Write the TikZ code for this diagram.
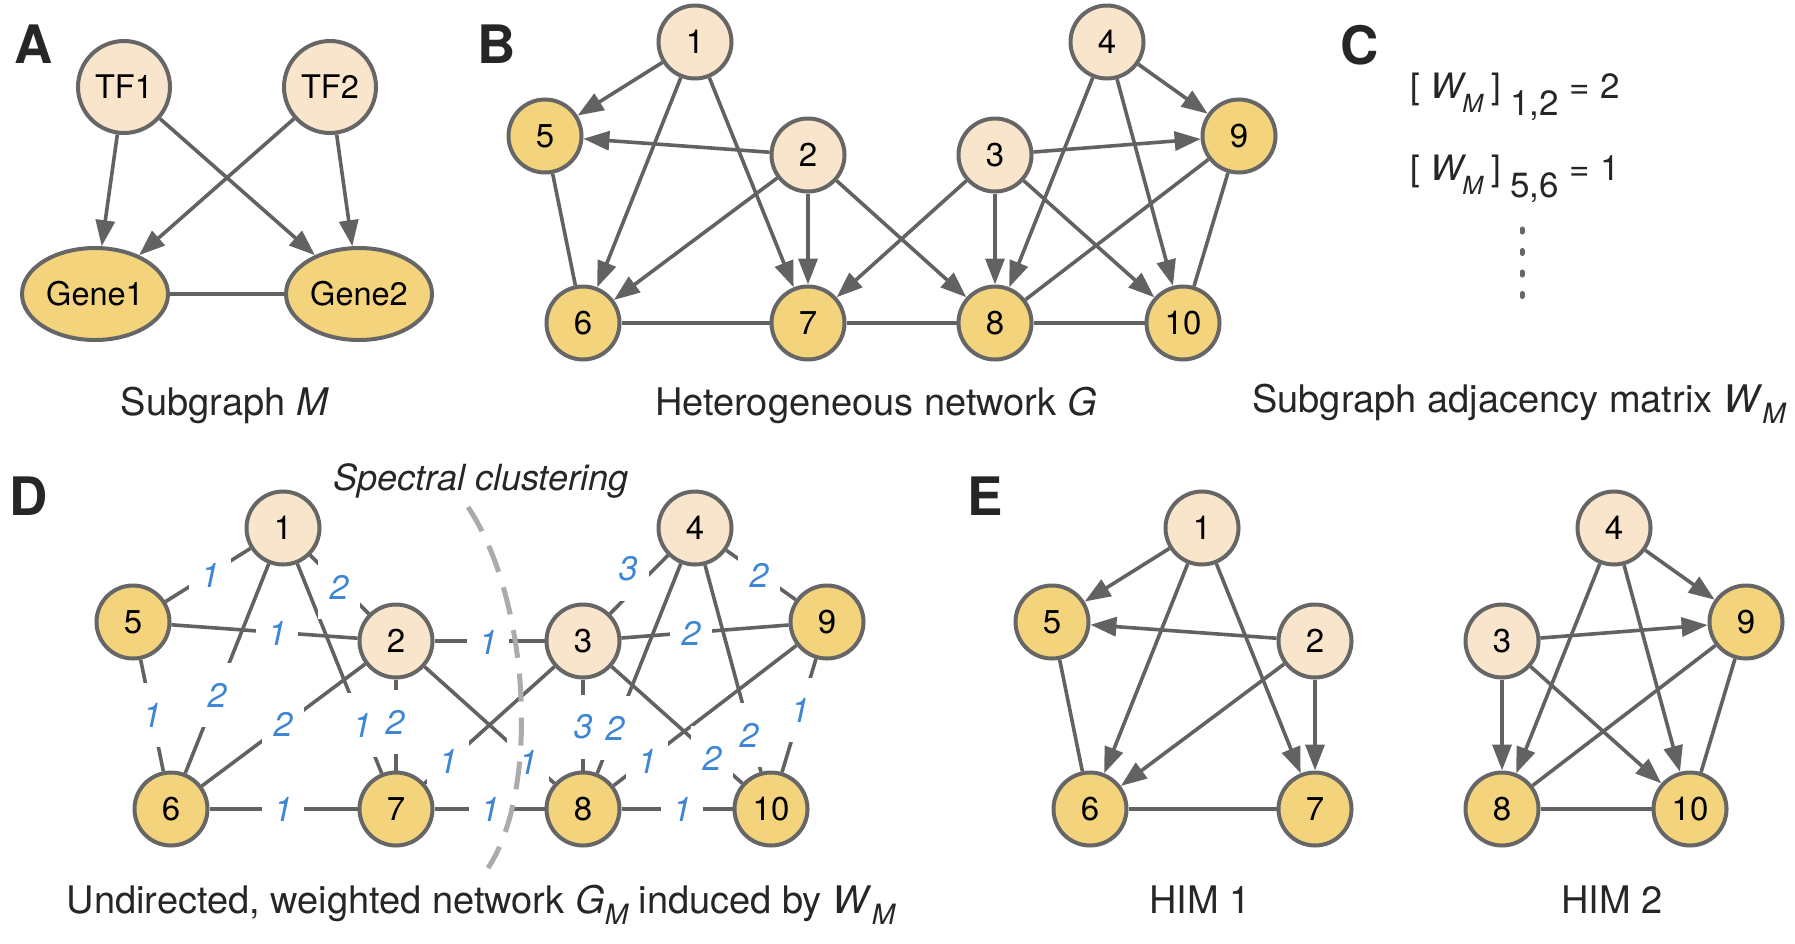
\documentclass[tikz,border=0pt]{standalone}
\usepackage{fontspec}
\setmainfont{TeX Gyre Heros}
\usetikzlibrary{arrows.meta,shapes.geometric}
\pgfdeclarelayer{edgelayer}
\pgfdeclarelayer{gaplayer}
\pgfsetlayers{edgelayer,gaplayer,main}

\definecolor{peach}{HTML}{F8E5CC}
\definecolor{gold}{HTML}{F3D37B}
\definecolor{edgegray}{HTML}{626262}
\definecolor{bordergray}{HTML}{666666}
\definecolor{wblue}{HTML}{3D85D5}
\definecolor{captext}{HTML}{262626}
\definecolor{dashgray}{HTML}{ABABAB}

\newcommand{\fs}[1]{\fontsize{#1}{#1}\selectfont}
\newcommand{\lowM}{\raisebox{-11pt}{\fs{28}\itshape M}}

\tikzset{
  vtx/.style={circle, draw=bordergray, line width=4pt, minimum size=73pt, inner sep=0pt, font=\fs{33}},
  tfn/.style={vtx, fill=peach},
  tgn/.style={vtx, fill=gold},
  tfbig/.style={circle, draw=bordergray, line width=4pt, minimum size=92pt, inner sep=0pt, fill=peach, font=\fs{32.5}},
  genebig/.style={ellipse, draw=bordergray, line width=4pt, minimum width=146pt, minimum height=92pt, inner sep=0pt, fill=gold, font=\fs{32.5}},
  arr/.style={draw=edgegray, line width=3.6pt, -{Triangle[length=26pt,width=19pt]}},
  und/.style={draw=edgegray, line width=3.6pt},
  wl/.style={fill=white, inner sep=0pt, minimum width=42pt, minimum height=64pt, text=wblue, font=\fs{34}\itshape},
  panel/.style={font=\fs{53}\bfseries, text=captext, inner sep=0pt, anchor=base west},
  captxt/.style={font=\fs{38}, text=captext, inner sep=0pt, anchor=base},
  formula/.style={font=\fs{35}, text=captext, inner sep=0pt, anchor=base west},
}

\begin{document}
\begin{tikzpicture}[x=1pt,y=-1pt]
\useasboundingbox (0,0) rectangle (1795,943);

% ---------- panel letters ----------
\node[panel] (pA) at (14,63) {A};
\node[panel] (pB) at (477,63) {B};
\node[panel] (pC) at (1340,64) {C};
\node[panel] (pD) at (9,515) {D};
\node[panel] (pE) at (967,515) {E};

% ---------- panel A ----------
\node[tfbig] (tf1) at (124,87) {TF1};
\node[tfbig] (tf2) at (330,87) {TF2};
\node[genebig] (g1) at (95,294) {Gene1};
\node[genebig] (g2) at (359,294) {Gene2};
\begin{pgfonlayer}{edgelayer}
\draw[arr] (tf1) -- (g1);
\draw[arr] (tf1) -- (g2);
\draw[arr] (tf2) -- (g1);
\draw[arr] (tf2) -- (g2);
\draw[und] (g1) -- (g2);
\end{pgfonlayer}
\node[captxt] (capA) at (225,415) {Subgraph \textit{M}};

% ---------- panel B ----------
\node[tfn] (b1) at (695,42) {1};
\node[tfn] (b4) at (1107,42) {4};
\node[tgn] (b5) at (545,136) {5};
\node[tfn] (b2) at (808,155) {2};
\node[tfn] (b3) at (995,155) {3};
\node[tgn] (b9) at (1239,136) {9};
\node[tgn] (b6) at (583,323) {6};
\node[tgn] (b7) at (808,323) {7};
\node[tgn] (b8) at (995,323) {8};
\node[tgn] (b10) at (1183,323) {10};
\begin{pgfonlayer}{edgelayer}
\draw[arr] (b1) -- (b5);
\draw[arr] (b1) -- (b6);
\draw[arr] (b1) -- (b7);
\draw[arr] (b2) -- (b5);
\draw[arr] (b2) -- (b6);
\draw[arr] (b2) -- (b7);
\draw[arr] (b2) -- (b8);
\draw[arr] (b3) -- (b7);
\draw[arr] (b3) -- (b8);
\draw[arr] (b3) -- (b9);
\draw[arr] (b3) -- (b10);
\draw[arr] (b4) -- (b8);
\draw[arr] (b4) -- (b9);
\draw[arr] (b4) -- (b10);
\draw[und] (b5) -- (b6);
\draw[und] (b6) -- (b7);
\draw[und] (b7) -- (b8);
\draw[und] (b8) -- (b10);
\draw[und] (b9) -- (b8);
\draw[und] (b9) -- (b10);
\end{pgfonlayer}
\node[captxt] (capB) at (876,415) {Heterogeneous network \textit{G}};

% ---------- panel C ----------
\node[formula] (c1) at (1410,98) {[\hspace{10.5pt}{\itshape W}\hspace{-1pt}\raisebox{-14pt}{\fs{25}\itshape M}\hspace{8pt}]\hspace{9pt}\raisebox{-17pt}{1,2}\hspace{10.5pt}=\hspace{11pt}2};
\node[formula] (c2) at (1410,180) {[\hspace{10.5pt}{\itshape W}\hspace{-1pt}\raisebox{-14pt}{\fs{25}\itshape M}\hspace{8pt}]\hspace{9pt}\raisebox{-17pt}{5,6}\hspace{10.5pt}=\hspace{11pt}1};
\coordinate (dotA) at (1522,229);
\coordinate (dotB) at (1522,297);
\draw[bordergray, line width=5pt, line cap=round, dash pattern=on 3pt off 18.5pt] (dotA) -- (dotB);
\node[captxt] (capC) at (1519,412) {Subgraph adjacency matrix \textit{W}\lowM};

% ---------- panel D ----------
\node[tfn] (d1) at (283,528) {1};
\node[tfn] (d4) at (695,528) {4};
\node[tgn] (d5) at (133,622) {5};
\node[tfn] (d2) at (396,641) {2};
\node[tfn] (d3) at (583,641) {3};
\node[tgn] (d9) at (827,622) {9};
\node[tgn] (d6) at (171,809) {6};
\node[tgn] (d7) at (396,809) {7};
\node[tgn] (d8) at (583,809) {8};
\node[tgn] (d10) at (771,809) {10};
\begin{pgfonlayer}{edgelayer}
\draw[und] (d5) -- (d1);
\draw[und] (d1) -- (d2);
\draw[und] (d5) -- (d2);
\draw[und] (d2) -- (d3);
\draw[und] (d5) -- (d6);
\draw[und] (d1) -- (d6);
\draw[und] (d2) -- (d6);
\draw[und] (d1) -- (d7);
\draw[und] (d2) -- (d7);
\draw[und] (d3) -- (d7);
\draw[und] (d6) -- (d7);
\draw[und] (d7) -- (d8);
\draw[und] (d2) -- (d8);
\draw[und] (d3) -- (d4);
\draw[und] (d4) -- (d9);
\draw[und] (d3) -- (d9);
\draw[und] (d3) -- (d8);
\draw[und] (d4) -- (d8);
\draw[und] (d9) -- (d8);
\draw[und] (d3) -- (d10);
\draw[und] (d4) -- (d10);
\draw[und] (d9) -- (d10);
\draw[und] (d8) -- (d10);
\end{pgfonlayer}
\begin{pgfonlayer}{gaplayer}
\node[wl] (w51) at (210,575) {1};
\node[wl] (w12) at (339,587) {2};
\node[wl] (w52) at (277,633) {1};
\node[wl] (w23) at (488,642) {1};
\node[wl] (w56) at (152,715) {1};
\node[wl] (w16) at (217,695) {2};
\node[wl] (w26) at (283,724) {2};
\node[wl] (w17) at (362,725) {1};
\node[wl] (w27) at (395,722) {2};
\node[wl] (w37) at (448,761) {1};
\node[wl] (w67) at (283,809) {1};
\node[wl] (w78) at (490,809) {1};
\node[wl] (w28) at (528,762) {1};
\node[wl] (w34) at (628,569) {3};
\node[wl] (w49) at (759,575) {2};
\node[wl] (w39) at (691,633) {2};
\node[wl] (w38) at (583,727) {3};
\node[wl] (w48) at (615,728) {2};
\node[wl] (w98) at (647,761) {1};
\node[wl] (w310) at (712,758) {2};
\node[wl] (w410) at (749,735) {2};
\node[wl] (w910) at (800,710) {1};
\node[wl] (w810) at (682,809) {1};
\end{pgfonlayer}
\draw[dashgray, line width=5pt, dash pattern=on 28pt off 16pt] (468,507) .. controls (530,600) and (540,790) .. (488,868);
\node[captxt, font=\fs{36}\itshape] (spec) at (481,490) {Spectral clustering};
\node[captxt] (capD) at (481,913) {Undirected, weighted network \textit{G}\lowM\ induced by \textit{W}\lowM};

% ---------- panel E ----------
\node[tfn] (e1) at (1202,528) {1};
\node[tgn] (e5) at (1052,622) {5};
\node[tfn] (e2) at (1315,641) {2};
\node[tgn] (e6) at (1090,809) {6};
\node[tgn] (e7) at (1315,809) {7};
\node[tfn] (e4) at (1614,528) {4};
\node[tfn] (e3) at (1502,641) {3};
\node[tgn] (e9) at (1746,622) {9};
\node[tgn] (e8) at (1502,809) {8};
\node[tgn] (e10) at (1690,809) {10};
\begin{pgfonlayer}{edgelayer}
\draw[arr] (e1) -- (e5);
\draw[arr] (e1) -- (e6);
\draw[arr] (e1) -- (e7);
\draw[arr] (e2) -- (e5);
\draw[arr] (e2) -- (e6);
\draw[arr] (e2) -- (e7);
\draw[und] (e5) -- (e6);
\draw[und] (e6) -- (e7);
\draw[arr] (e4) -- (e9);
\draw[arr] (e4) -- (e8);
\draw[arr] (e4) -- (e10);
\draw[arr] (e3) -- (e9);
\draw[arr] (e3) -- (e8);
\draw[arr] (e3) -- (e10);
\draw[und] (e9) -- (e8);
\draw[und] (e9) -- (e10);
\draw[und] (e8) -- (e10);
\end{pgfonlayer}
\node[captxt] (capE1) at (1200,913) {HIM 1};
\node[captxt] (capE2) at (1612,913) {HIM 2};
\end{tikzpicture}
\end{document}
